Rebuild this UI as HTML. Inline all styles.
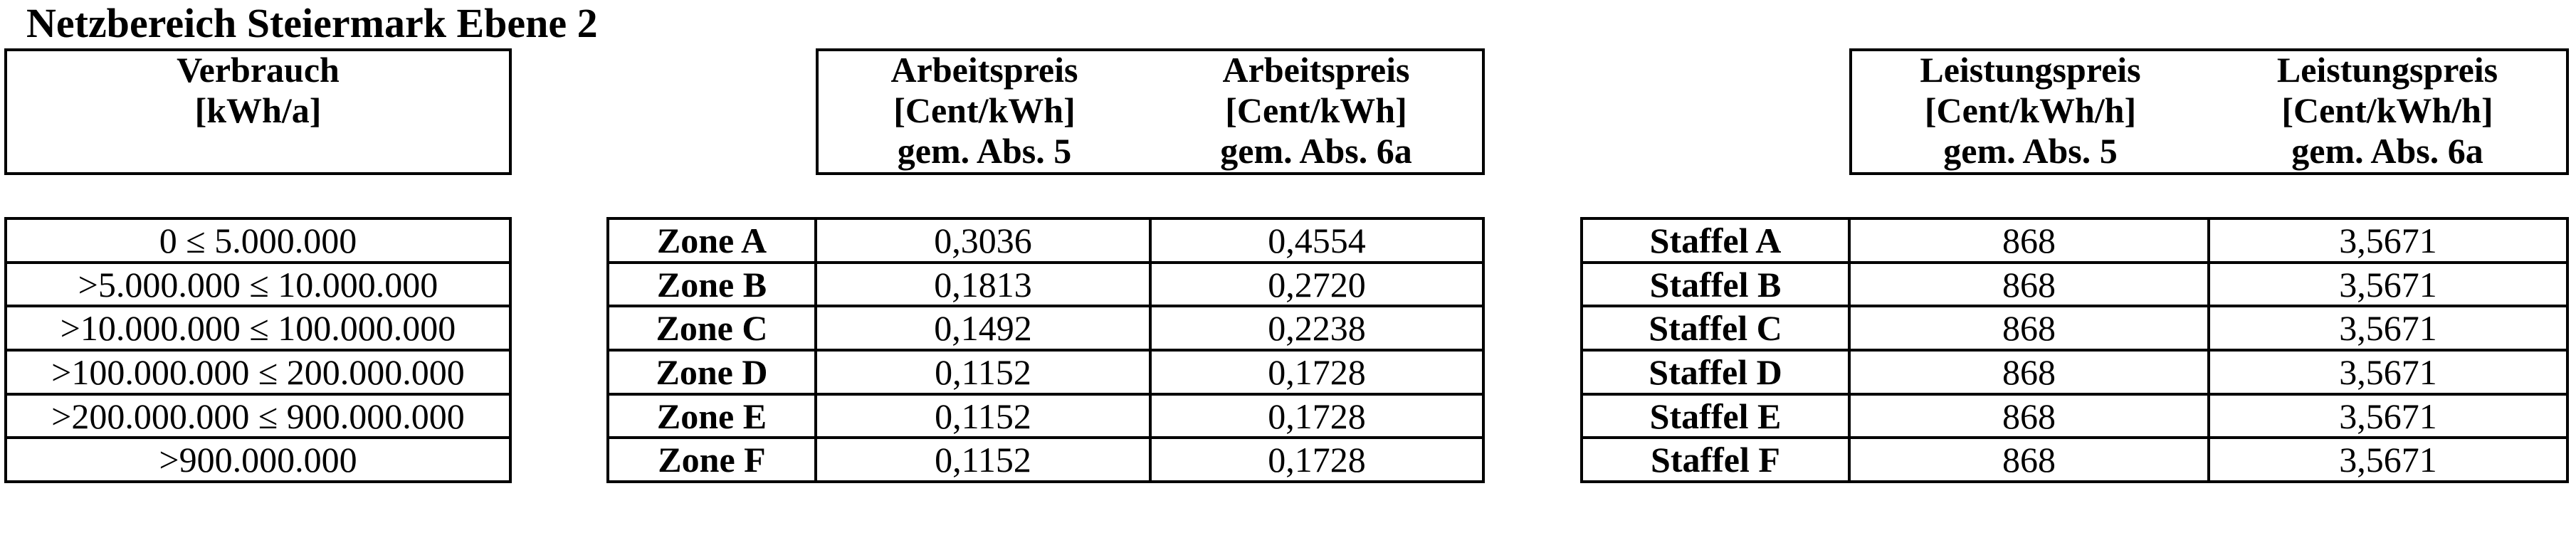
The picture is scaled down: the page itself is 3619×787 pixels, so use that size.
<!DOCTYPE html>
<html><head><meta charset="utf-8"><style>
html,body{margin:0;padding:0;background:#fff;}
body{width:3619px;height:787px;position:relative;overflow:hidden;font-family:"Liberation Serif","DejaVu Serif",serif;color:#000;}
.blk{position:absolute;background:#000;}
.c{position:absolute;background:#fff;display:flex;align-items:center;justify-content:center;font-size:50px;white-space:nowrap;}
.b{font-weight:bold;}
.h{position:absolute;text-align:center;font-weight:bold;font-size:50px;line-height:57px;white-space:nowrap;}
</style></head><body>
<div class="h" style="left:37px;top:2px;text-align:left;font-size:58px;line-height:62px;">Netzbereich Steiermark Ebene 2</div>

<div class="blk" style="left:6px;top:68px;width:713px;height:178px;"></div>
<div class="c" style="left:10px;top:72px;width:705px;height:170px;"></div>
<div class="h" style="left:10px;top:70px;width:705px;">Verbrauch<br>[kWh/a]</div>

<div class="blk" style="left:1146px;top:68px;width:940px;height:178px;"></div>
<div class="c" style="left:1150px;top:72px;width:932px;height:170px;"></div>
<div class="h" style="left:1150px;top:70px;width:466px;">Arbeitspreis<br>[Cent/kWh]<br>gem. Abs. 5</div>
<div class="h" style="left:1616px;top:70px;width:466px;">Arbeitspreis<br>[Cent/kWh]<br>gem. Abs. 6a</div>

<div class="blk" style="left:2598px;top:68px;width:1011px;height:178px;"></div>
<div class="c" style="left:2602px;top:72px;width:1003px;height:170px;"></div>
<div class="h" style="left:2602px;top:70px;width:501px;">Leistungspreis<br>[Cent/kWh/h]<br>gem. Abs. 5</div>
<div class="h" style="left:3103px;top:70px;width:502px;">Leistungspreis<br>[Cent/kWh/h]<br>gem. Abs. 6a</div>

<div class="blk" style="left:6px;top:305px;width:713px;height:374px;"></div>
<div class="c" style="left:10px;top:309px;width:705px;height:58px;">0 ≤ 5.000.000</div>
<div class="c" style="left:10px;top:371px;width:705px;height:57px;">&gt;5.000.000 ≤ 10.000.000</div>
<div class="c" style="left:10px;top:432px;width:705px;height:58px;">&gt;10.000.000 ≤ 100.000.000</div>
<div class="c" style="left:10px;top:494px;width:705px;height:58px;">&gt;100.000.000 ≤ 200.000.000</div>
<div class="c" style="left:10px;top:556px;width:705px;height:57px;">&gt;200.000.000 ≤ 900.000.000</div>
<div class="c" style="left:10px;top:617px;width:705px;height:58px;">&gt;900.000.000</div>

<div class="blk" style="left:852px;top:305px;width:1234px;height:374px;"></div>
<div class="c b" style="left:856px;top:309px;width:288px;height:58px;">Zone A</div>
<div class="c" style="left:1148px;top:309px;width:466px;height:58px;">0,3036</div>
<div class="c" style="left:1618px;top:309px;width:464px;height:58px;">0,4554</div>
<div class="c b" style="left:856px;top:371px;width:288px;height:57px;">Zone B</div>
<div class="c" style="left:1148px;top:371px;width:466px;height:57px;">0,1813</div>
<div class="c" style="left:1618px;top:371px;width:464px;height:57px;">0,2720</div>
<div class="c b" style="left:856px;top:432px;width:288px;height:58px;">Zone C</div>
<div class="c" style="left:1148px;top:432px;width:466px;height:58px;">0,1492</div>
<div class="c" style="left:1618px;top:432px;width:464px;height:58px;">0,2238</div>
<div class="c b" style="left:856px;top:494px;width:288px;height:58px;">Zone D</div>
<div class="c" style="left:1148px;top:494px;width:466px;height:58px;">0,1152</div>
<div class="c" style="left:1618px;top:494px;width:464px;height:58px;">0,1728</div>
<div class="c b" style="left:856px;top:556px;width:288px;height:57px;">Zone E</div>
<div class="c" style="left:1148px;top:556px;width:466px;height:57px;">0,1152</div>
<div class="c" style="left:1618px;top:556px;width:464px;height:57px;">0,1728</div>
<div class="c b" style="left:856px;top:617px;width:288px;height:58px;">Zone F</div>
<div class="c" style="left:1148px;top:617px;width:466px;height:58px;">0,1152</div>
<div class="c" style="left:1618px;top:617px;width:464px;height:58px;">0,1728</div>

<div class="blk" style="left:2220px;top:305px;width:1389px;height:374px;"></div>
<div class="c b" style="left:2224px;top:309px;width:372px;height:58px;">Staffel A</div>
<div class="c" style="left:2600px;top:309px;width:501px;height:58px;">868</div>
<div class="c" style="left:3105px;top:309px;width:500px;height:58px;">3,5671</div>
<div class="c b" style="left:2224px;top:371px;width:372px;height:57px;">Staffel B</div>
<div class="c" style="left:2600px;top:371px;width:501px;height:57px;">868</div>
<div class="c" style="left:3105px;top:371px;width:500px;height:57px;">3,5671</div>
<div class="c b" style="left:2224px;top:432px;width:372px;height:58px;">Staffel C</div>
<div class="c" style="left:2600px;top:432px;width:501px;height:58px;">868</div>
<div class="c" style="left:3105px;top:432px;width:500px;height:58px;">3,5671</div>
<div class="c b" style="left:2224px;top:494px;width:372px;height:58px;">Staffel D</div>
<div class="c" style="left:2600px;top:494px;width:501px;height:58px;">868</div>
<div class="c" style="left:3105px;top:494px;width:500px;height:58px;">3,5671</div>
<div class="c b" style="left:2224px;top:556px;width:372px;height:57px;">Staffel E</div>
<div class="c" style="left:2600px;top:556px;width:501px;height:57px;">868</div>
<div class="c" style="left:3105px;top:556px;width:500px;height:57px;">3,5671</div>
<div class="c b" style="left:2224px;top:617px;width:372px;height:58px;">Staffel F</div>
<div class="c" style="left:2600px;top:617px;width:501px;height:58px;">868</div>
<div class="c" style="left:3105px;top:617px;width:500px;height:58px;">3,5671</div>
</body></html>
